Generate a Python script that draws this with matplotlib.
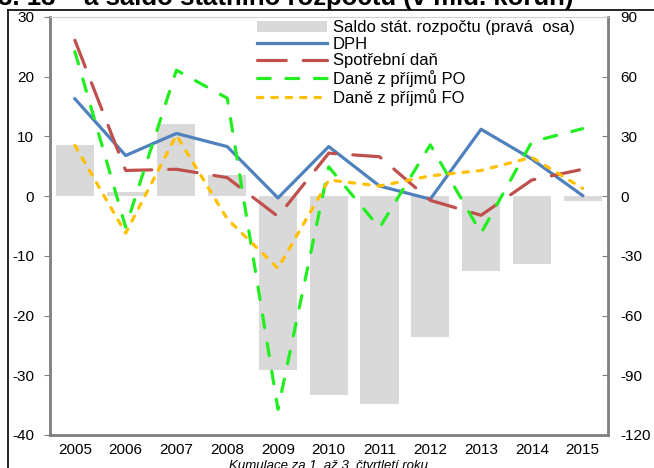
"""
Daně a saldo státního rozpočtu, 2005-2015 (kumulace za 1. až 3. čtvrtletí).
Lines on the left axis, budget balance as grey bars on the right axis.

Run: python plot.py  ->  out.png
"""
import matplotlib
matplotlib.use("Agg")
import matplotlib.pyplot as plt
from matplotlib.lines import Line2D

plt.rcParams["font.family"] = ["Liberation Sans", "DejaVu Sans"]
plt.rcParams["axes.unicode_minus"] = False  # source uses a plain hyphen

YEARS = ["2005", "2006", "2007", "2008", "2009", "2010",
         "2011", "2012", "2013", "2014", "2015"]

# saldo státního rozpočtu, right axis (mld. Kč)
SALDO = [25.7, 2.0, 36.2, 10.6, -87.5, -100.0, -104.5, -71.0, -37.5, -34.0, -2.5]

# tax revenues, left axis
DPH = [16.3, 6.8, 10.5, 8.3, -0.3, 8.3, 1.7, -0.5, 11.2, 6.2, 0.1]
SPOTREBNI = [26.1, 4.3, 4.5, 3.1, -3.4, 7.2, 6.6, -0.7, -3.2, 2.7, 4.5]
DPPO = [24.2, -5.2, 21.1, 16.4, -35.7, 4.9, -5.3, 8.6, -6.2, 9.1, 11.3]
DPFO = [8.5, -6.2, 10.2, -3.8, -12.1, 2.7, 1.7, 3.4, 4.3, 6.5, 1.3]

W, H = 654, 468
GREY = "#7f7f7f"


def main():
    fig = plt.figure(figsize=(W / 100, H / 100), dpi=100)
    ax = fig.add_axes([49.5 / W, 1 - 435 / H, (608 - 49.5) / W, (435 - 17) / H])
    axb = ax.twinx()
    # lines must sit above the bars
    ax.set_zorder(axb.get_zorder() + 1)
    ax.patch.set_visible(False)

    x = list(range(len(YEARS)))
    bars = axb.bar(x, SALDO, width=0.75, color="#d9d9d9",
                   label="Saldo stát. rozpočtu (pravá  osa)")

    lw = 2.3
    l1, = ax.plot(x, DPH, color="#4f81bd", lw=lw, label="DPH")
    l2, = ax.plot(x, SPOTREBNI, color="#c0504d", lw=lw, dashes=(9, 5.3),
                  dash_capstyle="round", label="Spotřební daň")
    l3, = ax.plot(x, DPPO, color="#22ee22", lw=lw, dashes=(4, 4.9),
                  dash_capstyle="round", label="Daně z příjmů PO")
    l4, = ax.plot(x, DPFO, color="#ffc000", lw=lw, dashes=(1.7, 2.8),
                  dash_capstyle="round", label="Daně z příjmů FO")

    ax.set_xlim(-0.5, len(YEARS) - 0.5)
    ax.set_ylim(-40, 30)
    ax.set_yticks(range(-40, 31, 10))
    axb.set_ylim(-120, 90)
    axb.set_yticks(range(-120, 91, 30))
    ax.set_xticks(x)
    ax.set_xticklabels(YEARS)

    ax.tick_params(axis="x", length=0, labelsize=11, pad=6)
    ax.tick_params(axis="y", direction="out", length=4, color=GREY,
                   labelsize=11, pad=7)
    axb.tick_params(axis="y", direction="in", length=4, color=GREY,
                    labelsize=11, pad=9)

    for side in ("left", "bottom"):
        ax.spines[side].set_color(GREY)
        ax.spines[side].set_linewidth(2)
    ax.spines["top"].set_color("#d0d0d0")
    ax.spines["right"].set_visible(False)
    axb.spines["right"].set_color(GREY)
    axb.spines["right"].set_linewidth(2)
    for side in ("left", "top", "bottom"):
        axb.spines[side].set_visible(False)

    ax.set_xlabel("Kumulace za 1. až 3. čtvrtletí roku", fontsize=9.5,
                  style="italic", labelpad=2)

    fig.legend(handles=[bars, l1, l2, l3, l4], loc="upper left",
               bbox_to_anchor=(257 / W, 1 - 20 / H), frameon=False,
               fontsize=12, borderpad=0, borderaxespad=0, labelspacing=0.1,
               handlelength=4.2, handletextpad=0.35, handleheight=0.65)

    # chart title, cut off by the top edge in the source image
    fig.text(-2 / W, 1 - 5 / H, "3. 13 – a saldo státního rozpočtu (v mld. korun)",
             fontsize=18.5, fontweight="bold", va="baseline", ha="left")

    # outer frame
    fig.add_artist(Line2D([8 / W, 1], [1 - 10 / H, 1 - 10 / H],
                          transform=fig.transFigure, color="black", lw=1.2))
    fig.add_artist(Line2D([8 / W, 8 / W], [0, 1 - 10 / H],
                          transform=fig.transFigure, color="black", lw=1.2))

    fig.savefig("out.png", dpi=100)
    plt.close(fig)


if __name__ == "__main__":
    main()
